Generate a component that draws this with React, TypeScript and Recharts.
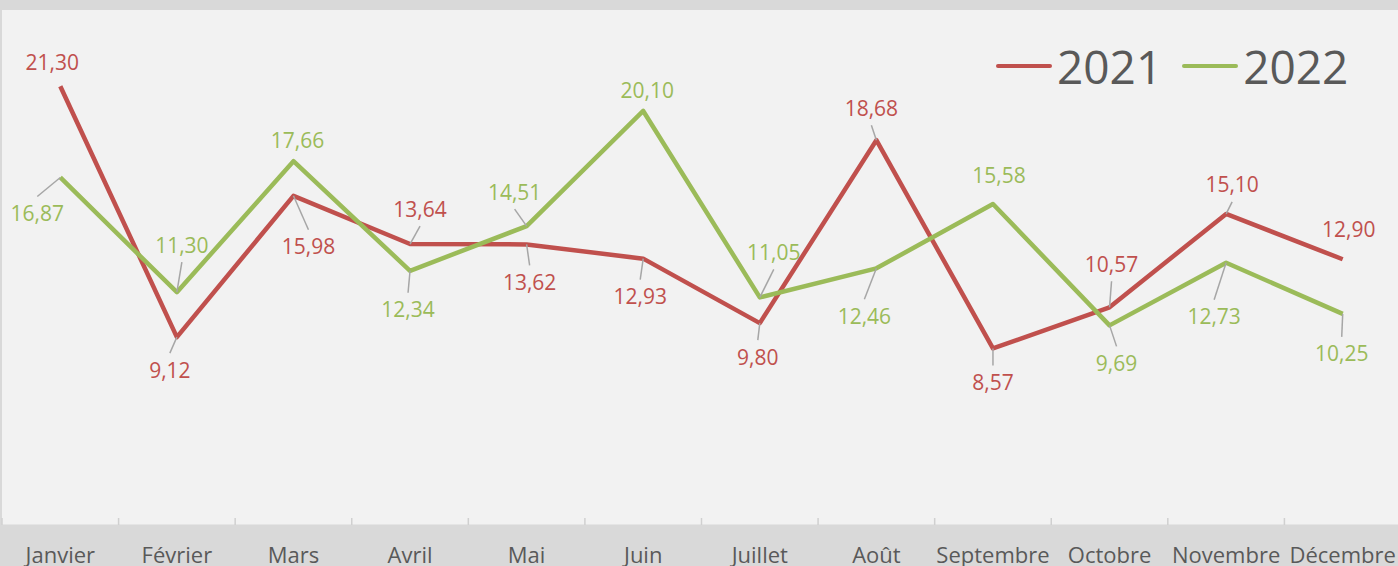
import React from 'react';
import { LineChart, Line, XAxis, YAxis, CartesianGrid, LabelList } from 'recharts';

const months = ['Janvier', 'Février', 'Mars', 'Avril', 'Mai', 'Juin', 'Juillet', 'Août', 'Septembre', 'Octobre', 'Novembre', 'Décembre'];
const values2021 = [21.3, 9.12, 15.98, 13.64, 13.62, 12.93, 9.8, 18.68, 8.57, 10.57, 15.1, 12.9];
const values2022 = [16.87, 11.3, 17.66, 12.34, 14.51, 20.1, 11.05, 12.46, 15.58, 9.69, 12.73, 10.25];
const seriesNames = ['2021', '2022'];
const yDomain = [0, 25];

// label placement (dx, dy, leader line) — layout only
const labelLayout2021 = [[-8, -24, 0], [-7, 33, 1], [15, 51, 1], [10, -35, 1], [3, 38, 1], [-3, 38, 1], [-2, 34, 1], [-5, -32, 1], [0, 34, 1], [2, -43, 1], [6, -29, 1], [6, -30, 0]];
const labelLayout2022 = [[-23, 36, 1], [5, -47, 1], [4, -21, 0], [-2, 39, 1], [-12, -34, 1], [4, -20, 0], [14, -45, 1], [-12, 48, 1], [6, -29, 0], [7, 38, 1], [-12, 54, 1], [-1, 40, 1]];

const RED = '#c0504d';
const GREEN = '#9bbb59';
const FONT = '"Open Sans", sans-serif';

const data = months.map((m, i) => ({ month: m, y2021: values2021[i], y2022: values2022[i] }));

const fmt = (v: number) => v.toFixed(2).replace('.', ',');

const makeLabel = (layout: number[][], color: string) => (props: any) => {
  const { x, y, value, index } = props;
  const [dx, dy, leader] = layout[index];
  const lx = x + dx;
  const ly = y + dy;
  const endY = ly - Math.sign(dy) * 17;
  return (
    <g>
      {leader ? <line x1={x} y1={y} x2={lx} y2={endY} stroke="#a6a6a6" strokeWidth={1.5} /> : null}
      <text x={lx} y={ly + 7.5} textAnchor="middle" fill={color} fontSize={21} fontFamily={FONT}>
        {fmt(value)}
      </text>
    </g>
  );
};

const MonthTick = (props: any) => {
  const { x, y, payload, index, width, visibleTicksCount } = props;
  const n = visibleTicksCount || months.length;
  const band = width / n;
  const left = x - band / 2;
  const right = x + band / 2;
  return (
    <g>
      <line x1={left} y1={y} x2={left} y2={y - 7} stroke="#d0d0d0" strokeWidth={1.5} />
      {index === n - 1 ? <line x1={right} y1={y} x2={right} y2={y - 7} stroke="#d0d0d0" strokeWidth={1.5} /> : null}
      <text x={x} y={y} dy={38} textAnchor="middle" fill="#595959" fontSize={22} fontFamily={FONT}>
        {payload.value}
      </text>
    </g>
  );
};

const LegendBox = () => (
  <div style={{ position: 'absolute', top: 36, left: 995, display: 'flex', alignItems: 'center', fontFamily: FONT }}>
    {seriesNames.map((name, i) => (
      <div key={name} style={{ display: 'flex', alignItems: 'center', marginRight: 19 }}>
        <svg width={58} height={10} style={{ marginRight: 4 }}>
          <line x1={3} y1={5} x2={55} y2={5} stroke={i === 0 ? RED : GREEN} strokeWidth={4} strokeLinecap="round" />
        </svg>
        <span style={{ fontSize: 46, color: '#595959', lineHeight: '60px' }}>{name}</span>
      </div>
    ))}
  </div>
);

export default function App() {
  return (
    <div style={{ position: 'absolute', left: 0, top: 0, width: 1398, height: 566, overflow: 'hidden', background: '#d9d9d9' }}>
      <LineChart width={1410} height={566} data={data} margin={{ top: 10, right: 9, bottom: 0, left: 2 }}>
        <CartesianGrid fill="#f2f2f2" horizontal={false} vertical={false} />
        <XAxis dataKey="month" scale="band" tickLine={false} tickSize={0} tickMargin={0} axisLine={{ stroke: '#d9d9d9' }} tick={<MonthTick />} height={41} interval={0} />
        <YAxis hide domain={yDomain} />
        <Line dataKey="y2021" name="2021" stroke={RED} strokeWidth={4.5} dot={false} isAnimationActive={false} strokeLinejoin="round">
          <LabelList dataKey="y2021" content={makeLabel(labelLayout2021, RED)} />
        </Line>
        <Line dataKey="y2022" name="2022" stroke={GREEN} strokeWidth={4.5} dot={false} isAnimationActive={false} strokeLinejoin="round">
          <LabelList dataKey="y2022" content={makeLabel(labelLayout2022, GREEN)} />
        </Line>
      </LineChart>
      <LegendBox />
    </div>
  );
}
